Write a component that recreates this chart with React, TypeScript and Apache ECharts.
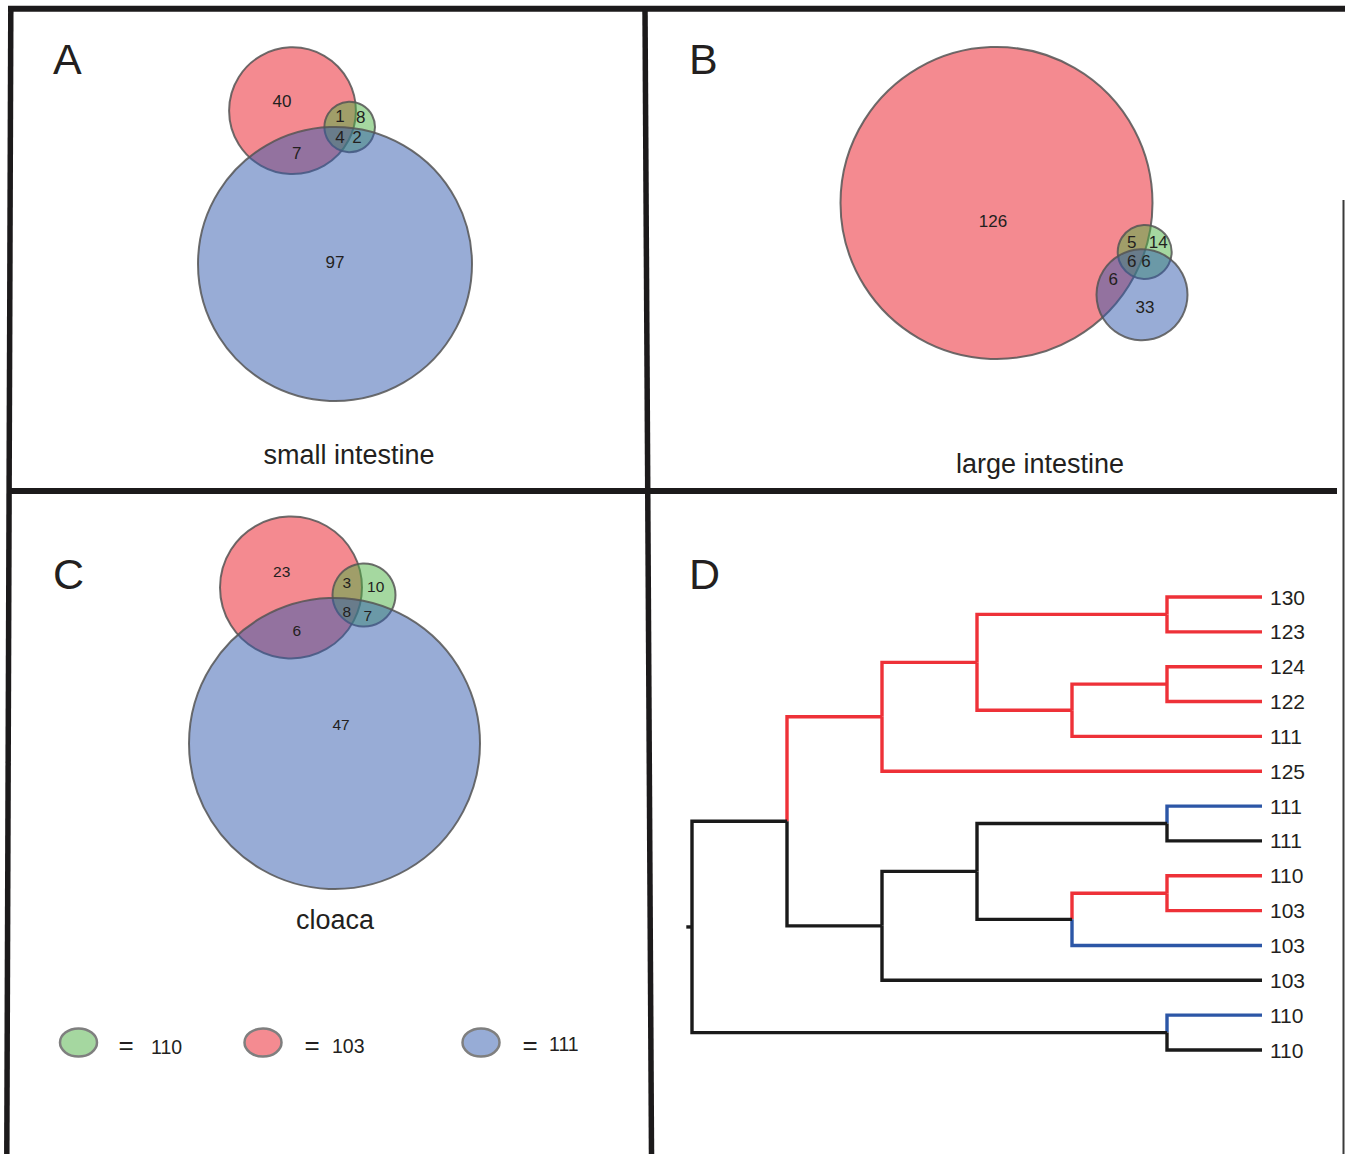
import { useEffect, useRef } from 'react';
import * as echarts from 'echarts';

// ---------- data ----------
// sets (circle order: red, green, blue)
const SET_NAMES = ['103', '110', '111'];
const SET_FILLS = ['rgba(233,22,33,0.5)', 'rgba(75,177,65,0.5)', 'rgba(49,89,173,0.5)'];
const LEGEND_SET_ORDER = [1, 0, 2]; // legend shows 110, 103, 111
const LEGEND_FILLS = ['#F48B91', '#A5D7A0', '#97ACD6'];

const PANEL_LETTERS = ['A', 'B', 'C', 'D'];
const PANEL_TITLES = ['small intestine', 'large intestine', 'cloaca'];

// Venn A (small intestine): circles [cx, cy, r] in panel units
const circlesA = [[282.5, 100.7, 63.4], [339.7, 117, 25.3], [325, 254, 137]];
const countsA = ['40', '1', '8', '4', '2', '7', '97'];
const countPosA = [[272, 91.7], [330, 106], [350.7, 107.7], [330, 127], [347, 127.5], [286.7, 143], [325, 252]];

// Venn B (large intestine)
const circlesB = [[348.5, 193, 156], [496.7, 242, 27], [494, 284.7, 45.5]];
const countsB = ['126', '5', '14', '6', '6', '6', '33'];
const countPosB = [[345, 211], [483.7, 232.3], [510.3, 232.3], [483.7, 251.7], [498, 251.7], [465.3, 269.3], [497, 297.3]];

// Venn C (cloaca)
const circlesC = [[281, 93.5, 71], [354, 101, 31.5], [324.5, 249.5, 145.5]];
const countsC = ['23', '3', '10', '8', '7', '6', '47'];
const countPosC = [[271.7, 77], [336.7, 88.7], [365.7, 92], [336.7, 117.7], [357.7, 121], [286.7, 136], [331, 230]];

// Dendrogram (D)
const LEAF_LABELS = ['130', '123', '124', '122', '111', '125', '111', '111', '110', '103', '103', '103', '110', '110'];
const LEAF_LEVEL = 6;
const BRANCH_COLORS = ['#1A1A1A', '#EE3138', '#2C56A6']; // k, r, b
const COLOR_KEYS = ['k', 'r', 'b'];

type TNode = { c: string; level?: number; leaf?: number; kids?: TNode[] };
const TREE: TNode = {
  c: 'k', level: 0, kids: [
    {
      c: 'k', level: 1, kids: [
        {
          c: 'r', level: 2, kids: [
            {
              c: 'r', level: 3, kids: [
                { c: 'r', level: 5, kids: [{ c: 'r', leaf: 0 }, { c: 'r', leaf: 1 }] },
                { c: 'r', level: 4, kids: [{ c: 'r', level: 5, kids: [{ c: 'r', leaf: 2 }, { c: 'r', leaf: 3 }] }, { c: 'r', leaf: 4 }] },
              ],
            },
            { c: 'r', leaf: 5 },
          ],
        },
        {
          c: 'k', level: 2, kids: [
            {
              c: 'k', level: 3, kids: [
                { c: 'k', level: 5, kids: [{ c: 'b', leaf: 6 }, { c: 'k', leaf: 7 }] },
                { c: 'k', level: 4, kids: [{ c: 'r', level: 5, kids: [{ c: 'r', leaf: 8 }, { c: 'r', leaf: 9 }] }, { c: 'b', leaf: 10 }] },
              ],
            },
            { c: 'k', leaf: 11 },
          ],
        },
      ],
    },
    { c: 'k', level: 5, kids: [{ c: 'b', leaf: 12 }, { c: 'k', leaf: 13 }] },
  ],
};

// ---------- helpers ----------
const FONT = '"Liberation Sans", Arial, Helvetica, sans-serif';
const INK = '#231F20';

function collectEdges(node: TNode, edges: number[][]): number {
  if (node.leaf !== undefined) return node.leaf;
  const ys = node.kids!.map((k) => collectEdges(k, edges));
  const y = ys.reduce((a, b) => a + b, 0) / ys.length;
  node.kids!.forEach((k, i) => {
    edges.push([node.level!, y, k.leaf !== undefined ? LEAF_LEVEL : k.level!, ys[i], COLOR_KEYS.indexOf(k.c)]);
  });
  return y;
}

function vennSeries(idx: number, circles: number[][], counts: string[], pos: number[][], fontSize: number) {
  return [
    {
      type: 'custom',
      xAxisIndex: idx,
      yAxisIndex: idx,
      clip: false,
      silent: true,
      z: 2,
      data: circles.map((c) => [c[0], c[1], c[2]]),
      renderItem: (params: any, api: any) => {
        const p = api.coord([api.value(0), api.value(1)]);
        const r = api.size([api.value(2), 0])[0];
        return {
          type: 'circle',
          shape: { cx: p[0], cy: p[1], r },
          style: { fill: SET_FILLS[params.dataIndex], stroke: 'rgba(85,85,85,0.85)', lineWidth: 2 },
        };
      },
    },
    {
      type: 'custom',
      xAxisIndex: idx,
      yAxisIndex: idx,
      clip: false,
      silent: true,
      z: 3,
      data: pos.map((p) => [p[0], p[1]]),
      renderItem: (params: any, api: any) => {
        const p = api.coord([api.value(0), api.value(1)]);
        return {
          type: 'text',
          x: p[0],
          y: p[1],
          style: {
            text: counts[params.dataIndex],
            fill: INK,
            font: `${fontSize}px ${FONT}`,
            align: 'center',
            verticalAlign: 'middle',
          },
        };
      },
    },
  ];
}

function buildOption() {
  const edges: number[][] = [];
  const rootY = collectEdges(TREE, edges);
  edges.push([-0.06, rootY, 0, rootY, 0]);

  const grids = [
    { left: 10, top: 10, width: 635, height: 480 },
    { left: 648, top: 10, width: 690, height: 480 },
    { left: 10, top: 494, width: 640, height: 660 },
    { left: 692, top: 597, width: 570, height: 453 },
  ];
  const xRanges = [[0, 635], [0, 690], [0, 640], [0, LEAF_LEVEL]];
  const yRanges = [[0, 480], [0, 480], [0, 660], [0, LEAF_LABELS.length - 1]];

  const lineStyle = { stroke: '#1C1A1B', lineWidth: 5.5 };
  const graphic: any[] = [
    // frame
    { type: 'line', shape: { x1: 8, y1: 8.7, x2: 1345, y2: 8.7 }, style: { ...lineStyle, lineWidth: 6 } },
    { type: 'line', shape: { x1: 10.8, y1: 9, x2: 6.8, y2: 1154 }, style: lineStyle },
    { type: 'line', shape: { x1: 645, y1: 9, x2: 651.5, y2: 1154 }, style: lineStyle },
    { type: 'line', shape: { x1: 8, y1: 491, x2: 1337, y2: 491 }, style: { ...lineStyle, lineWidth: 6 } },
    { type: 'line', shape: { x1: 1343.5, y1: 200, x2: 1343.5, y2: 1154 }, style: { stroke: '#3a3a3a', lineWidth: 2 } },
  ];
  const letterPos = [[53, 59], [689, 59], [53, 574], [689, 574]];
  PANEL_LETTERS.forEach((t, i) => {
    graphic.push({
      type: 'text', x: letterPos[i][0], y: letterPos[i][1],
      style: { text: t, font: `43px ${FONT}`, fill: INK, align: 'left', verticalAlign: 'middle' },
    });
  });
  const titlePos = [[349, 455], [1040, 464], [335, 920]];
  PANEL_TITLES.forEach((t, i) => {
    graphic.push({
      type: 'text', x: titlePos[i][0], y: titlePos[i][1],
      style: { text: t, font: `27px ${FONT}`, fill: INK, align: 'center', verticalAlign: 'middle' },
    });
  });
  // legend
  const legendX = [78.5, 263, 481];
  const eqX = [126, 312, 530];
  const numX = [151, 332, 549];
  const numY = [1047, 1046, 1044];
  LEGEND_SET_ORDER.forEach((s, i) => {
    graphic.push({
      type: 'ellipse', shape: { cx: legendX[i], cy: 1042.5, rx: 18.5, ry: 14 },
      style: { fill: LEGEND_FILLS[s], stroke: '#7F7F7F', lineWidth: 2.5 },
    });
    graphic.push({
      type: 'text', x: eqX[i], y: 1045,
      style: { text: '=', font: `26px ${FONT}`, fill: INK, align: 'center', verticalAlign: 'middle' },
    });
    graphic.push({
      type: 'text', x: numX[i], y: numY[i],
      style: { text: SET_NAMES[s], font: `19.5px ${FONT}`, fill: INK, align: 'left', verticalAlign: 'middle' },
    });
  });

  return {
    animation: false,
    backgroundColor: '#ffffff',
    grid: grids.map((g) => ({ ...g, show: false, containLabel: false, outerBoundsMode: 'none' })),
    xAxis: xRanges.map((r, i) => ({ type: 'value', gridIndex: i, min: r[0], max: r[1], show: false })),
    yAxis: yRanges.map((r, i) => ({ type: 'value', gridIndex: i, min: r[0], max: r[1], inverse: true, show: false })),
    series: [
      ...vennSeries(0, circlesA, countsA, countPosA, 17),
      ...vennSeries(1, circlesB, countsB, countPosB, 17),
      ...vennSeries(2, circlesC, countsC, countPosC, 15.5),
      {
        type: 'custom',
        xAxisIndex: 3,
        yAxisIndex: 3,
        clip: false,
        silent: true,
        z: 2,
        data: edges,
        renderItem: (params: any, api: any) => {
          const x1 = api.value(0), y1 = api.value(1), x2 = api.value(2), y2 = api.value(3);
          const a = api.coord([x1, y1]);
          const b = api.coord([x1, y2]);
          const c = api.coord([x2, y2]);
          return {
            type: 'polyline',
            shape: { points: [a, b, c] },
            style: { stroke: BRANCH_COLORS[api.value(4)], lineWidth: 3.4, fill: null, lineJoin: 'miter', lineCap: 'butt' },
          };
        },
      },
      {
        type: 'custom',
        xAxisIndex: 3,
        yAxisIndex: 3,
        clip: false,
        silent: true,
        z: 3,
        data: LEAF_LABELS.map((_, i) => [LEAF_LEVEL, i]),
        renderItem: (params: any, api: any) => {
          const p = api.coord([api.value(0), api.value(1)]);
          return {
            type: 'text',
            x: p[0] + 8,
            y: p[1],
            style: {
              text: LEAF_LABELS[params.dataIndex],
              fill: INK,
              font: `21px ${FONT}`,
              align: 'left',
              verticalAlign: 'middle',
            },
          };
        },
      },
    ],
    graphic,
  };
}

export default function App() {
  const ref = useRef<HTMLDivElement>(null);
  useEffect(() => {
    if (!ref.current) return;
    const chart = echarts.init(ref.current, null, { renderer: 'svg' });
    chart.setOption(buildOption() as any);
    return () => chart.dispose();
  }, []);
  return (
    <div
      ref={ref}
      style={{ position: 'absolute', left: 0, top: 0, width: 1345, height: 1154, background: '#fff' }}
    />
  );
}
